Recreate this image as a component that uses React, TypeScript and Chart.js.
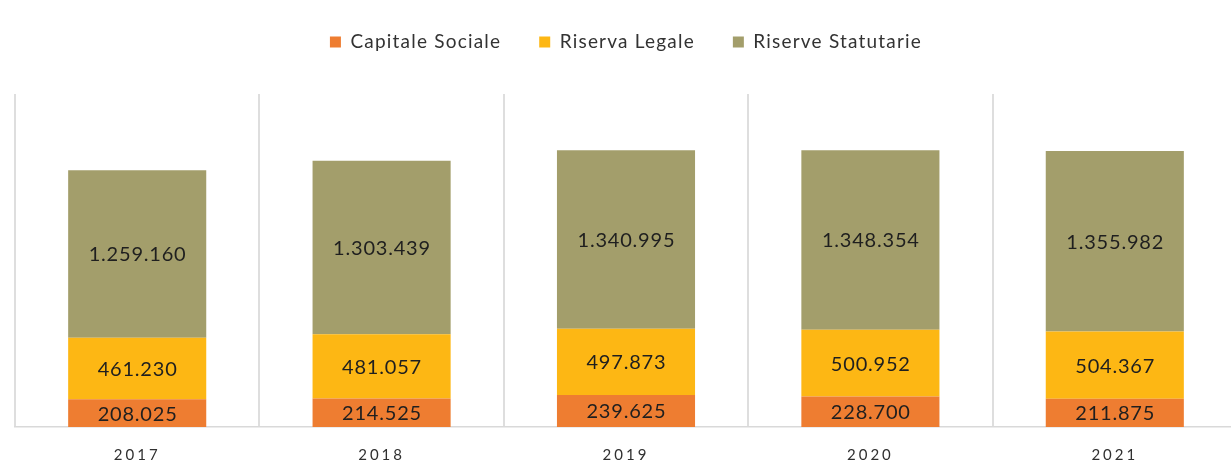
import React, { useEffect, useRef } from 'react';
import { Chart, registerables, CategoryScale } from 'chart.js';

const years = ['2017', '2018', '2019', '2020', '2021'];
const capitaleSociale = [208025, 214525, 239625, 228700, 211875];
const riservaLegale = [461230, 481057, 497873, 500952, 504367];
const riserveStatutarie = [1259160, 1303439, 1340995, 1348354, 1355982];

const seriesNames = ['Capitale Sociale', 'Riserva Legale', 'Riserve Statutarie'];
const seriesColors = ['#EE7D31', '#FDB714', '#A39E6B'];

class SpacedCategoryScale extends CategoryScale {
  static id = 'spacedCategory';
  static defaults = (CategoryScale as any).defaults;
  drawLabels(chartArea: any) {
    const ctx: any = (this as any).ctx;
    ctx.save();
    ctx.letterSpacing = '3px';
    super.drawLabels(chartArea);
    ctx.restore();
  }
}

Chart.register(...registerables, SpacedCategoryScale);

const fmt = (v: number) => String(v).replace(/\B(?=(\d{3})+(?!\d))/g, '.');

const legendTweaks = {
  id: 'legendTweaks',
  beforeInit(chart: any) {
    const legend = chart.legend;
    if (!legend) return;
    const origFit = legend.fit;
    const origDraw = legend.draw;
    legend.fit = function () {
      const ctx: any = this.ctx;
      ctx.save();
      ctx.letterSpacing = '1.2px';
      origFit.call(this);
      ctx.restore();
      this.height += 32.5;
    };
    legend.draw = function () {
      const ctx: any = this.ctx;
      ctx.save();
      ctx.letterSpacing = '1.2px';
      origDraw.call(this);
      ctx.restore();
    };
  },
};

const valueLabels = {
  id: 'valueLabels',
  afterDatasetsDraw(chart: any) {
    const ctx: any = chart.ctx;
    ctx.save();
    ctx.font = '20px Lato';
    ctx.letterSpacing = '0.8px';
    ctx.fillStyle = '#1f1f1f';
    ctx.textAlign = 'center';
    ctx.textBaseline = 'middle';
    chart.data.datasets.forEach((ds: any, di: number) => {
      const meta = chart.getDatasetMeta(di);
      meta.data.forEach((bar: any, i: number) => {
        const p = bar.getProps(['x', 'y', 'base'], true);
        ctx.fillText(fmt(ds.data[i]), p.x + 0.4, (p.y + p.base) / 2 + 1);
      });
    });
    ctx.restore();
  },
};

export default function App() {
  const ref = useRef<HTMLCanvasElement>(null);
  useEffect(() => {
    let chart: Chart | null = null;
    let cancelled = false;
    const make = () => {
      if (cancelled || !ref.current) return;
      chart = new Chart(ref.current, {
        type: 'bar',
        data: {
          labels: years,
          datasets: [capitaleSociale, riservaLegale, riserveStatutarie].map((d, i) => ({
            label: seriesNames[i],
            data: d,
            backgroundColor: seriesColors[i],
            borderWidth: 0,
            categoryPercentage: 1,
            barPercentage: 0.565,
          })),
        },
        options: {
          responsive: false,
          animation: false,
          layout: { padding: { left: 15, right: 13, top: -5.5, bottom: -19 } },
          plugins: {
            tooltip: { enabled: false },
            legend: {
              position: 'top',
              labels: {
                boxWidth: 11,
                boxHeight: 11,
                padding: 38,
                color: '#333333',
                font: { family: 'Lato', size: 19 },
              },
            },
          },
          scales: {
            x: {
              type: 'spacedCategory' as any,
              stacked: true,
              offset: true,
              grid: { offset: true, color: '#dedede', lineWidth: 2, drawTicks: false },
              border: { display: true, color: '#d9d9d9', width: 1.5 },
              ticks: { padding: 19, color: '#303030', font: { family: 'Lato', size: 15 } },
            },
            y: {
              stacked: true,
              display: false,
              min: 0,
              max: 2500000,
            },
          },
        },
        plugins: [legendTweaks, valueLabels],
      });
    };
    const fonts: any = (document as any).fonts;
    if (fonts && fonts.load) {
      Promise.all([fonts.load('19px Lato'), fonts.load('20px Lato'), fonts.load('15px Lato')]).then(make, make);
    } else {
      make();
    }
    return () => {
      cancelled = true;
      if (chart) chart.destroy();
    };
  }, []);
  return (
    <div style={{ position: 'fixed', left: 0, top: 0, width: 1231, height: 464, overflow: 'hidden', background: '#fff' }}>
      <canvas ref={ref} width={1250} height={464} style={{ display: 'block', width: 1250, height: 464 }} />
    </div>
  );
}
